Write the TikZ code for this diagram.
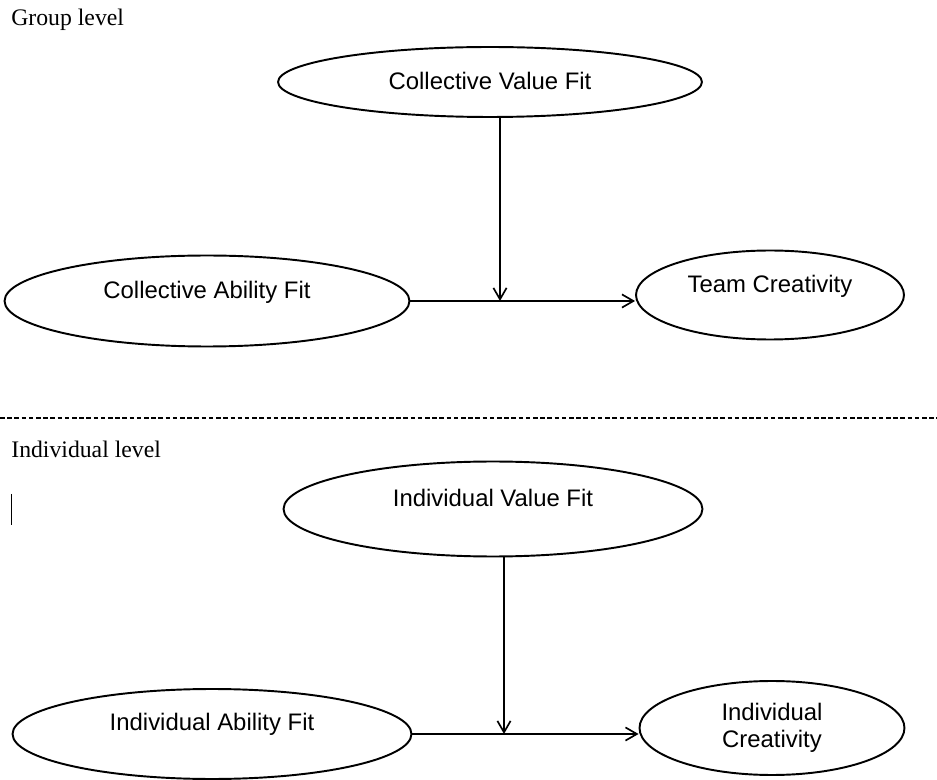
\documentclass[tikz,border=0pt]{standalone}
\usepackage{fontspec}
\setmainfont{Liberation Serif}
\newfontfamily\arialfont{Liberation Sans}
\usetikzlibrary{shapes.geometric,arrows.meta}

\begin{document}
\begin{tikzpicture}[x=0.02cm,y=-0.02cm,
    oval/.style={ellipse,draw,line width=1.1pt,inner sep=0pt},
    lbl/.style={font=\arialfont\fontsize{13.6}{15.3}\selectfont,inner sep=0pt,anchor=base},
    level/.style={font=\fontsize{13.5}{16}\selectfont,inner sep=0pt,anchor=base west},
    arr/.style={-{Straight Barb[length=6.5pt,width=7.5pt]},line width=0.95pt}]
            \useasboundingbox (0,0) rectangle (937,780);

            % group level
            \node[level] (grp) at (11,26) {Group level};
            \node[oval,minimum width=8.48cm,minimum height=1.4cm] (cvf) at (490,82) {};
            \node[oval,minimum width=8.1cm,minimum height=1.82cm] (caf) at (207,301) {};
            \node[oval,minimum width=5.36cm,minimum height=1.78cm] (tc) at (770,295) {};
            \node[lbl] (cvftext) at (490,90) {Collective Value Fit};
            \node[lbl] (caftext) at (207,299) {Collective Ability Fit};
            \node[lbl] (tctext) at (770,293) {Team Creativity};
            \coordinate (m1) at (500,301);

            \draw[arr] (caf.east) -- (caf.east -| tc.west);
            \draw[arr] (cvf.south -| m1) -- (m1);

            % separator
            \coordinate (d1) at (0,418);
            \coordinate (d2) at (937,418);
            \draw[line width=0.6pt,dash pattern=on 2.6pt off 1.5pt] (d1) -- (d2);

            % individual level
            \node[level] (ind) at (11,458) {Individual level};
            \draw[line width=0.5pt] (11,494) -- (11,525);
            \node[oval,minimum width=8.38cm,minimum height=1.9cm] (ivf) at (493,509) {};
            \node[oval,minimum width=7.98cm,minimum height=1.8cm] (iaf) at (212,734) {};
            \node[oval,minimum width=5.3cm,minimum height=1.88cm] (ic) at (772,728) {};
            \node[lbl] (ivftext) at (493,507) {Individual Value Fit};
            \node[lbl] (iaftext) at (212,730) {Individual Ability Fit};
            \node[lbl,anchor=center,align=center] (ictext) at (772,728) {Individual\\Creativity};
            \coordinate (m2) at (504,734);

            \draw[arr] (iaf.east) -- (iaf.east -| ic.west);
            \draw[arr] (ivf.south -| m2) -- (m2);
        \end{tikzpicture}
\end{document}
